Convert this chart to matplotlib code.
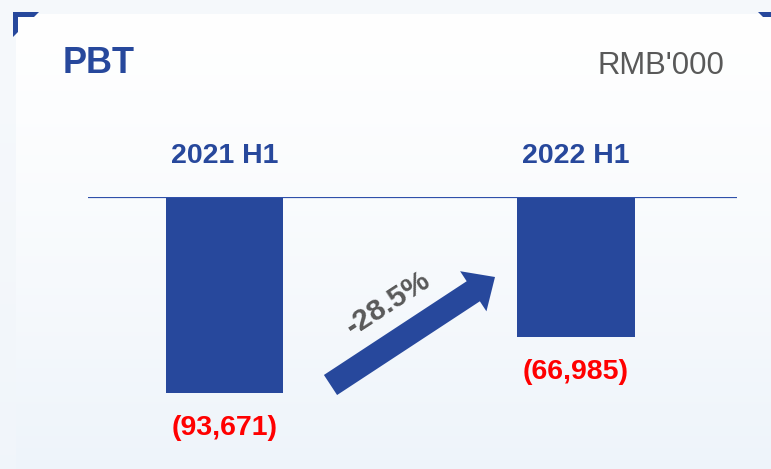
import numpy as np
import matplotlib
matplotlib.use("Agg")
import matplotlib.pyplot as plt
from matplotlib.patches import Polygon, FancyArrow

# ---- data ----
categories = ["2021 H1", "2022 H1"]
pbt_values = [-93671, -66985]
value_labels = ["(93,671)", "(66,985)"]
change_label = "-28.5%"
title = "PBT"
unit = "RMB'000"

W, H = 771, 469
BLUE = "#27489C"
GREY = "#595959"
RED = "#FF0000"
FONT = ["Liberation Sans", "DejaVu Sans"]

fig = plt.figure(figsize=(W / 100, H / 100), dpi=100)

# ---- background / decoration axes in pixel coordinates ----
bg = fig.add_axes([0, 0, 1, 1], zorder=0)
bg.set_xlim(0, W)
bg.set_ylim(H, 0)
bg.axis("off")

yy, xx = np.mgrid[0:H, 0:W]
t = (yy / H) ** 1.3
top = np.array([1.0, 1.0, 1.0])
bot = np.array([0xEE, 0xF4, 0xFA]) / 255
img = top[None, None, :] * (1 - t[..., None]) + bot[None, None, :] * t[..., None]
outside = (xx < 16) | (yy < 14)
strip = np.array([0xF2, 0xF6, 0xFA]) / 255
img[outside] = img[outside] * 0.3 + strip * 0.7
bg.imshow(img, extent=(0, W, H, 0), aspect="auto", zorder=0, interpolation="bilinear")

# corner brackets
bg.add_patch(Polygon([(13, 12), (39, 12), (34, 17), (18, 17), (18, 32), (13, 37)],
                     closed=True, color=BLUE, lw=0, zorder=2))
bg.add_patch(Polygon([(758, 12), (771, 12), (771, 17), (763, 17)],
                     closed=True, color=BLUE, lw=0, zorder=2))

# titles
bg.text(63, 73, title, fontsize=26, fontweight="bold", color=BLUE,
        family=FONT, ha="left", va="baseline", zorder=3)
bg.text(724, 74, unit, fontsize=22.4, color=GREY,
        family=FONT, ha="right", va="baseline", zorder=3)

# change arrow
tail = np.array([330.5, 385.0])
tip = np.array([495.0, 277.0])
d = tip - tail
bg.add_patch(FancyArrow(tail[0], tail[1], d[0], d[1], width=24, head_width=48,
                        head_length=26, length_includes_head=True,
                        color=BLUE, lw=0, zorder=3))
bg.text(388, 303, change_label, fontsize=21.5, fontweight="bold", color=GREY,
        family=FONT, rotation=33, rotation_mode="anchor",
        ha="center", va="center", zorder=4)

# ---- bar axes ----
left_px, right_px, top_px, bot_px = 88, 737, 197, 450
ax = fig.add_axes([left_px / W, 1 - bot_px / H, (right_px - left_px) / W,
                   (bot_px - top_px) / H], zorder=1)
ax.patch.set_alpha(0)
x = np.arange(len(categories))
ax.bar(x, pbt_values, width=0.333, color=BLUE, zorder=2)
ax.axhline(0, color="#2F50AA", lw=1.6, zorder=3)
ax.set_xlim(-0.3875, 1.4578)
ax.set_ylim(min(pbt_values) * 253 / 196, 0)
ax.axis("off")

for i, (cat, v, lab) in enumerate(zip(categories, pbt_values, value_labels)):
    ax.annotate(cat, (i, 0), xytext=(0, 34), textcoords="offset pixels",
                ha="center", va="baseline", fontsize=20.5, fontweight="bold",
                color=BLUE, family=FONT, annotation_clip=False)
    ax.annotate(lab, (i, v), xytext=(0, -42), textcoords="offset pixels",
                ha="center", va="baseline", fontsize=20.5, fontweight="bold",
                color=RED, family=FONT, annotation_clip=False)

fig.savefig("out.png", dpi=100)
